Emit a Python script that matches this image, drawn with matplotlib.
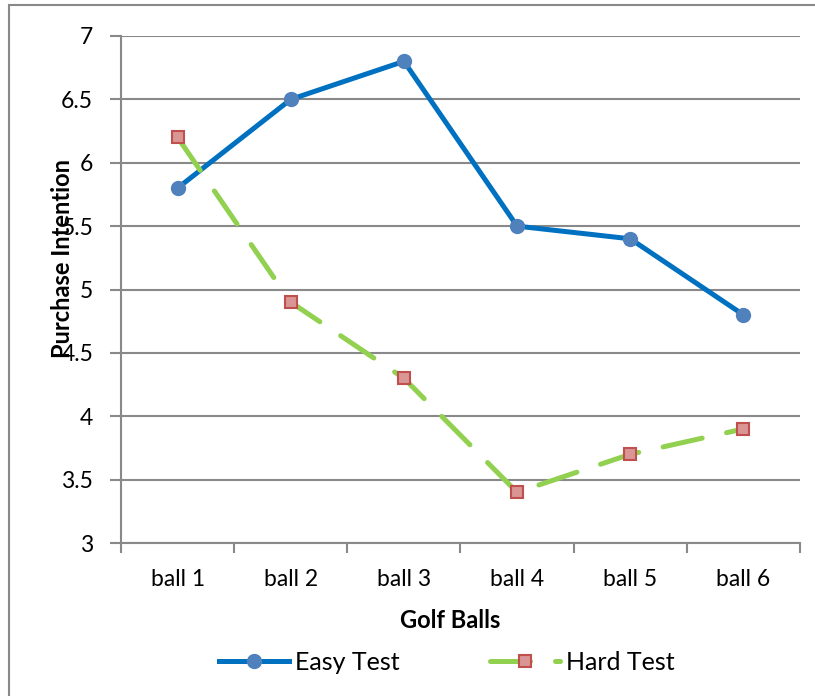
import matplotlib

matplotlib.use("Agg")
import matplotlib.pyplot as plt
from matplotlib.lines import Line2D
from matplotlib.patches import Rectangle

categories = ["ball 1", "ball 2", "ball 3", "ball 4", "ball 5", "ball 6"]
easy_test = [5.8, 6.5, 6.8, 5.5, 5.4, 4.8]
hard_test = [6.2, 4.9, 4.3, 3.4, 3.7, 3.9]
y_ticks = [3, 3.5, 4, 4.5, 5, 5.5, 6, 6.5, 7]
y_tick_labels = ["3", "3.5", "4", "4.5", "5", "5.5", "6", "6.5", "7"]

BLUE = "#0070C0"
BLUE_MARK = "#4F81BD"
GREEN = "#92D050"
RED_EDGE = "#C0504D"
RED_FACE = "#D99694"
GRID = "#898989"

plt.rcParams["font.family"] = ["Lato", "DejaVu Sans"]

W, H = 815, 696
fig = plt.figure(figsize=(W / 100, H / 100), dpi=100)
ax = fig.add_axes([121 / W, 1 - 543 / H, (800 - 121) / W, (543 - 36) / H])

# chart frame around the whole figure
fig.patches.append(Rectangle((9 / W, -0.05), 1.1, 1 - 5 / H + 0.05, transform=fig.transFigure,
                             fill=False, edgecolor=GRID, linewidth=1.5))

x = range(len(categories))
ax.plot(x, easy_test, color=BLUE, linewidth=3.6, solid_capstyle="round",
        marker="o", markersize=10, markerfacecolor=BLUE_MARK, markeredgecolor=BLUE_MARK, zorder=3)
ax.plot(x, hard_test, color=GREEN, linewidth=3.6, dashes=(8, 5), dash_capstyle="round",
        marker="s", markersize=8, markerfacecolor=RED_FACE, markeredgecolor=RED_EDGE,
        markeredgewidth=1.5, zorder=3)

ax.set_xlim(-0.5, len(categories) - 0.5)
ax.set_ylim(3, 7)
ax.set_yticks(y_ticks)
ax.set_yticklabels(y_tick_labels, fontsize=16.5)
ax.set_xticks([i + 0.5 for i in range(-1, len(categories))], minor=False)
ax.set_xticklabels([])
ax.set_xticks(list(x), minor=True)
ax.set_xticklabels(categories, minor=True, fontsize=16.5)
ax.tick_params(axis="x", which="major", length=7, width=1.5, color=GRID, direction="out")
ax.tick_params(axis="x", which="minor", length=0, pad=19)
ax.tick_params(axis="y", length=8, width=1.5, color=GRID, direction="out", pad=12)

ax.grid(axis="y", color=GRID, linewidth=1.5)
ax.set_axisbelow(True)
for side in ["top", "right"]:
    ax.spines[side].set_visible(False)
for side in ["left", "bottom"]:
    ax.spines[side].set_color(GRID)
    ax.spines[side].set_linewidth(1.5)

fig.text(450 / W, 1 - 621 / H, "Golf Balls", fontsize=17, fontweight="bold", ha="center", va="center")
fig.text(63 / W, 1 - 258 / H, "Purchase Intention", fontsize=17, fontweight="bold",
         ha="center", va="center", rotation=90)

handles = [
    Line2D([], [], color=BLUE, linewidth=3.6, marker="o", markersize=10,
           markerfacecolor=BLUE_MARK, markeredgecolor=BLUE_MARK),
    Line2D([], [], color=GREEN, linewidth=3.6, dashes=(8, 5), dash_capstyle="round",
           marker="s", markersize=8, markerfacecolor=RED_FACE, markeredgecolor=RED_EDGE,
           markeredgewidth=1.5),
]
fig.legend(handles, ["Easy Test", "Hard Test"], loc="center", bbox_to_anchor=(447 / W, 1 - 662 / H),
           ncol=2, frameon=False, fontsize=18, handlelength=2.8, handletextpad=0.25,
           columnspacing=3.6)

fig.savefig("out.png", dpi=100)
